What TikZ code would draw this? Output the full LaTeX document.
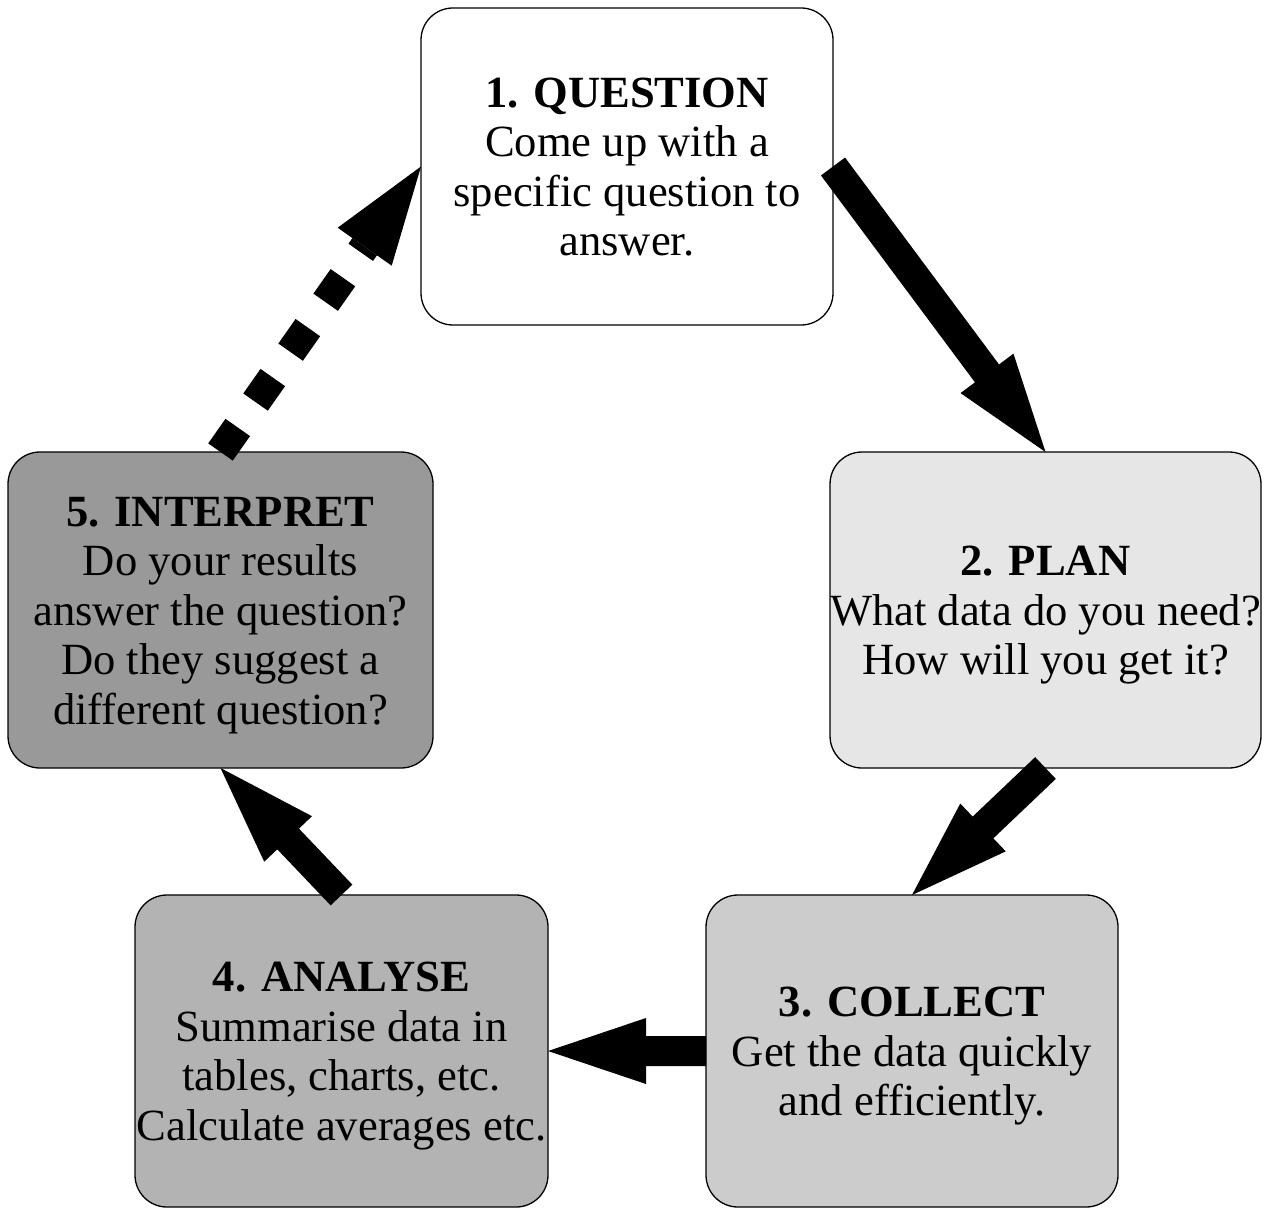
\documentclass[tikz,border=0pt]{standalone}
\usepackage{fontspec}
\setmainfont{Liberation Serif}
\usetikzlibrary{calc}
\definecolor{fillplan}{HTML}{E6E6E6}
\definecolor{fillcollect}{HTML}{CCCCCC}
\definecolor{fillanalyse}{HTML}{B3B3B3}
\definecolor{fillinterpret}{HTML}{999999}
\newcommand\tstrut{\rule{0pt}{0.891em}}
\newcommand\bstrut{\rule[-0.216em]{0pt}{0.216em}}
% fat arrow polygon from #2 (tail centre) to #3 (tip)
\newcommand\fatarrowhead[2]{%
  \coordinate (fa-b) at ($(#2)!98pt!(#1)$);
  \fill[black] ($(fa-b)!15pt!90:(#2)$) -- ($(fa-b)!33pt!90:(#2)$) -- (#2)
     -- ($(fa-b)!33pt!-90:(#2)$) -- ($(fa-b)!15pt!-90:(#2)$) -- cycle;}
\newcommand\fatarrow[2]{%
  \coordinate (fa-b) at ($(#2)!98pt!(#1)$);
  \fill[black] ($(#1)!15pt!90:(#2)$) -- ($(fa-b)!15pt!90:(#2)$)
     -- ($(fa-b)!33pt!90:(#2)$) -- (#2) -- ($(fa-b)!33pt!-90:(#2)$)
     -- ($(fa-b)!15pt!-90:(#2)$) -- ($(#1)!15pt!-90:(#2)$) -- cycle;}
\begin{document}
\begin{tikzpicture}[x=1pt,y=-1pt,
  stagebox/.style={draw=black, line width=1.3pt, rounded corners=32pt,
    rectangle, outer sep=0pt, inner sep=0pt, align=center,
    font=\fontsize{44.6}{49.5}\selectfont, text=black}]
\useasboundingbox[fill=white] (0,0) rectangle (1268,1209);

\node[stagebox, fill=white, minimum width=412pt, minimum height=317pt] (q) at (627,166.5)
  {\tstrut\textbf{1. QUESTION}\\Come up with a\\specific question to\\answer.\bstrut};
\node[stagebox, fill=fillplan, minimum width=425pt, minimum height=316pt] (p) at (1045.5,610)
  {\tstrut\textbf{2. PLAN}\\What data do you need?\\How will you get it?\bstrut};
\node[stagebox, fill=fillcollect, minimum width=412pt, minimum height=312pt] (c) at (912,1051)
  {\tstrut\textbf{3. COLLECT}\\Get the data quickly\\and efficiently.\bstrut};
\node[stagebox, fill=fillanalyse, minimum width=413pt, minimum height=312pt] (a) at (341.5,1051)
  {\tstrut\textbf{4. ANALYSE}\\Summarise data in\\tables, charts, etc.\\Calculate averages etc.\bstrut};
\node[stagebox, fill=fillinterpret, minimum width=425pt, minimum height=316pt] (i) at (220.5,610)
  {\tstrut\textbf{5. INTERPRET}\\Do your results\\answer the question?\\Do they suggest a\\different question?\bstrut};

\fatarrow{q.east}{p.north}
\fatarrow{p.south}{c.north}
\fatarrow{c.west}{a.east}
\fatarrow{a.north}{i.south}
% dashed arrow
\coordinate (d-b) at ($(q.west)!98pt!(i.north)$);
\draw[line width=30pt, line cap=butt, dash pattern=on 30pt off 31pt] (i.north) -- (d-b);
\fatarrowhead{i.north}{q.west}
\end{tikzpicture}
\end{document}
